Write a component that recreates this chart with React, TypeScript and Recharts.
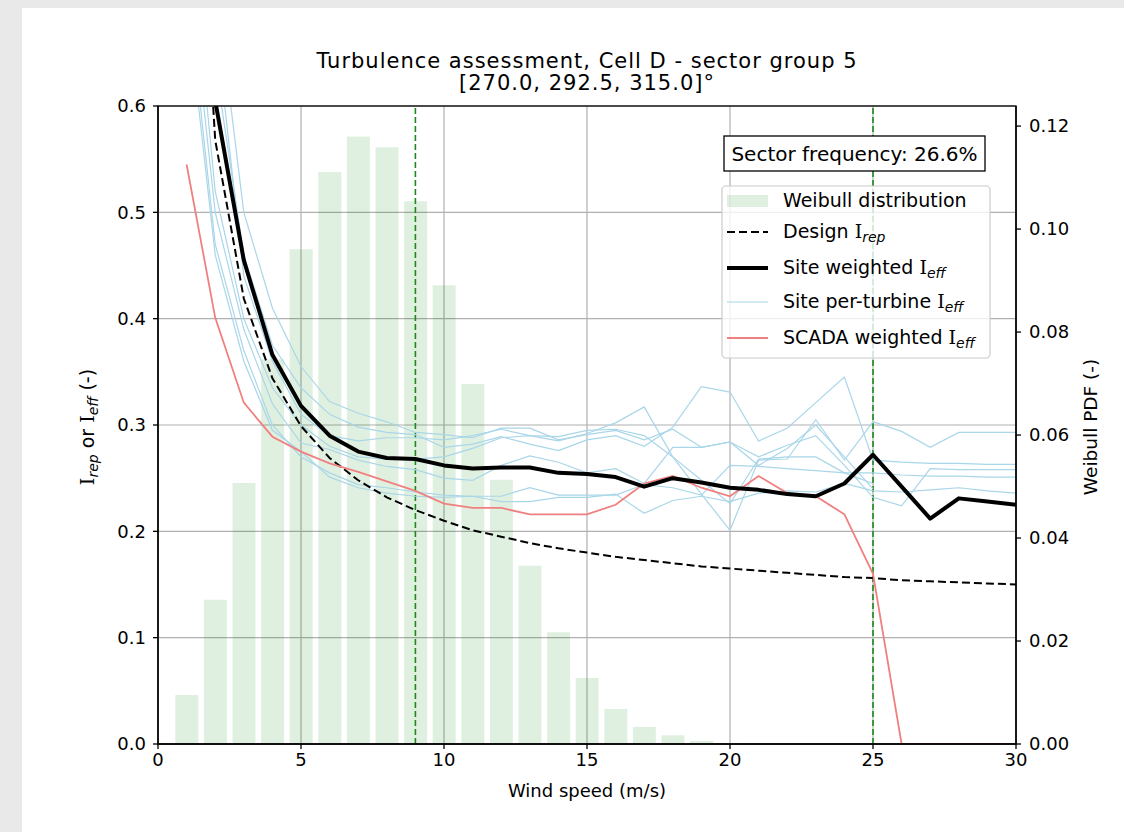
import React from "react";
import {
  ComposedChart,
  Bar,
  Line,
  XAxis,
  YAxis,
  CartesianGrid,
  ReferenceLine,
} from "recharts";

const windSpeed = [1, 2, 3, 4, 5, 6, 7, 8, 9, 10, 11, 12, 13, 14, 15, 16, 17, 18, 19, 20, 21, 22, 23, 24, 25, 26, 27, 28, 29, 30];
const weibullPdf = [0.0095, 0.028, 0.0507, 0.0747, 0.0961, 0.1111, 0.118, 0.1159, 0.1054, 0.0891, 0.0699, 0.0513, 0.0346, 0.0217, 0.0128, 0.0068, 0.0033, 0.0017, 0.0006, 0.0002, null, null, null, null, null, null, null, null, null, null];
const designIrep = [1.016, 0.568, 0.419, 0.344, 0.299, 0.269, 0.248, 0.232, 0.22, 0.21, 0.201, 0.195, 0.189, 0.184, 0.18, 0.176, 0.173, 0.17, 0.167, 0.165, 0.163, 0.161, 0.159, 0.157, 0.156, 0.154, 0.153, 0.152, 0.151, 0.15];
const siteWeighted = [null, 0.605, 0.455, 0.366, 0.318, 0.29, 0.275, 0.269, 0.268, 0.262, 0.259, 0.26, 0.26, 0.255, 0.254, 0.251, 0.242, 0.25, 0.246, 0.241, 0.239, 0.235, 0.233, 0.245, 0.272, 0.242, 0.212, 0.231, 0.228, 0.225];
const scadaWeighted = [0.545, 0.401, 0.321, 0.289, 0.275, 0.264, 0.256, 0.247, 0.238, 0.226, 0.222, 0.222, 0.216, 0.216, 0.216, 0.225, 0.245, 0.252, 0.241, 0.233, 0.252, 0.236, 0.233, 0.216, 0.16, 0, 0, 0, 0, 0];
const turbine1 = [null, 0.72, 0.5, 0.41, 0.355, 0.322, 0.311, 0.303, 0.293, 0.291, 0.288, 0.297, 0.297, 0.286, 0.291, 0.295, 0.286, 0.296, 0.279, 0.284, 0.262, 0.278, 0.3, 0.27, 0.24, null, null, null, null, null];
const turbine2 = [null, 0.64, 0.46, 0.375, 0.335, 0.31, 0.298, 0.293, 0.291, 0.279, 0.282, 0.289, 0.282, 0.276, 0.286, 0.29, 0.28, 0.298, 0.336, 0.331, 0.285, 0.297, 0.321, 0.345, 0.267, 0.265, 0.264, 0.264, 0.263, 0.263];
const turbine3 = [0.8, 0.52, 0.4, 0.335, 0.3, 0.28, 0.27, 0.268, 0.268, 0.27, 0.278, 0.288, 0.29, 0.285, 0.292, 0.302, 0.317, 0.27, 0.235, 0.201, 0.267, 0.268, 0.305, 0.267, 0.303, 0.294, 0.279, 0.293, 0.293, 0.293];
const turbine4 = [0.75, 0.5, 0.39, 0.32, 0.283, 0.277, 0.267, 0.261, 0.258, 0.25, 0.248, 0.262, 0.271, 0.265, 0.255, 0.259, 0.245, 0.279, 0.279, 0.284, 0.27, 0.281, 0.29, 0.262, 0.232, 0.224, 0.259, 0.258, 0.258, 0.258];
const turbine5 = [0.72, 0.47, 0.37, 0.3, 0.27, 0.255, 0.244, 0.241, 0.237, 0.234, 0.233, 0.233, 0.241, 0.234, 0.234, 0.234, 0.244, 0.241, 0.234, 0.262, 0.261, 0.259, 0.257, 0.255, 0.255, 0.253, 0.252, 0.252, 0.251, 0.251];
const turbine6 = [0.7, 0.46, 0.36, 0.295, 0.275, 0.251, 0.241, 0.236, 0.233, 0.232, 0.233, 0.228, 0.228, 0.232, 0.232, 0.235, 0.217, 0.229, 0.233, 0.228, 0.236, 0.238, 0.237, 0.245, 0.238, 0.237, 0.239, 0.241, 0.238, 0.236];
const turbine7 = [null, 0.68, 0.44, 0.36, 0.31, 0.29, 0.285, 0.288, 0.288, 0.286, 0.29, 0.296, 0.29, 0.289, 0.295, 0.296, 0.29, 0.27, 0.248, 0.226, 0.268, 0.27, 0.27, 0.255, 0.245, null, null, null, null, null];

const xTicks = [0, 5, 10, 15, 20, 25, 30];
const leftTicks = [0, 0.1, 0.2, 0.3, 0.4, 0.5, 0.6];
const rightTicks = [0, 0.02, 0.04, 0.06, 0.08, 0.1, 0.12];
const cutInOut = [9, 25];
const titleLines = ["Turbulence assessment, Cell D - sector group 5", "[270.0, 292.5, 315.0]°"];
const sectorFrequency = "Sector frequency: 26.6%";

const turbines = [turbine1, turbine2, turbine3, turbine4, turbine5, turbine6, turbine7];

const data = windSpeed.map((x, i) => {
  const row: Record<string, number | null> = {
    x,
    pdf: weibullPdf[i],
    design: designIrep[i],
    site: siteWeighted[i],
    scada: scadaWeighted[i],
  };
  turbines.forEach((t, k) => {
    row["t" + (k + 1)] = t[i];
  });
  return row;
});

const FONT = "DejaVu Sans";
const BLUE = "#a9d6e8";
const RED = "#f08080";

const tickStyle = { fontSize: 18, fill: "#000", fontFamily: FONT };

function IText({ pre, sub }: { pre: string; sub: string }) {
  return (
    <>
      {pre}
      <tspan fontFamily="DejaVu Serif">I</tspan>
      <tspan fontSize={14} fontStyle="italic" dy={4}>{sub}</tspan>
    </>
  );
}

export default function App() {
  return (
    <div style={{ position: "fixed", left: 0, top: 0, width: 1124, height: 832, background: "#e9e9e9" }}>
      <div style={{ position: "absolute", left: 22, top: 8, right: 0, bottom: 0, background: "#fff" }} />
      <div style={{ position: "absolute", left: 0, top: 0, width: 1124, height: 832 }}>
        <ComposedChart
          width={1124}
          height={832}
          data={data}
          margin={{ top: 106, right: 48, bottom: 58, left: 98 }}
        >
          <CartesianGrid
            yAxisId="left"
            stroke="#b0b0b0"
            strokeWidth={1.2}
            verticalValues={xTicks}
            horizontalValues={leftTicks}
          />
          <XAxis
            dataKey="x"
            type="number"
            domain={[0, 30]}
            ticks={xTicks}
            allowDataOverflow
            height={30}
            tick={tickStyle}
            tickSize={5}
            tickMargin={4}
            stroke="#000"
            strokeWidth={1.3}
          />
          <YAxis
            yAxisId="left"
            orientation="left"
            domain={[0, 0.6]}
            ticks={leftTicks}
            allowDataOverflow
            width={60}
            tick={tickStyle}
            tickSize={5}
            tickMargin={7}
            tickFormatter={(v: number) => v.toFixed(1)}
            stroke="#000"
            strokeWidth={1.3}
          />
          <YAxis
            yAxisId="right"
            orientation="right"
            domain={[0, 0.1239]}
            ticks={rightTicks}
            allowDataOverflow
            width={60}
            tick={tickStyle}
            tickSize={5}
            tickMargin={8}
            tickFormatter={(v: number) => v.toFixed(2)}
            stroke="#000"
            strokeWidth={1.3}
          />
          <Bar
            yAxisId="right"
            dataKey="pdf"
            fill="green"
            fillOpacity={0.12}
            barSize={23}
            isAnimationActive={false}
          />
          {cutInOut.map((v) => (
            <ReferenceLine
              key={v}
              yAxisId="left"
              x={v}
              stroke="#1a8a1a"
              strokeWidth={1.6}
              strokeDasharray="6 3"
            />
          ))}
          {turbines.map((_, k) => (
            <Line
              key={k}
              yAxisId="left"
              dataKey={"t" + (k + 1)}
              stroke={BLUE}
              strokeWidth={1.2}
              dot={false}
              activeDot={false}
              isAnimationActive={false}
            />
          ))}
          <Line
            yAxisId="left"
            dataKey="design"
            stroke="#000"
            strokeWidth={2}
            strokeDasharray="8 4"
            dot={false}
            activeDot={false}
            isAnimationActive={false}
          />
          <Line
            yAxisId="left"
            dataKey="scada"
            stroke={RED}
            strokeWidth={1.8}
            dot={false}
            activeDot={false}
            isAnimationActive={false}
          />
          <Line
            yAxisId="left"
            dataKey="site"
            stroke="#000"
            strokeWidth={4}
            strokeLinejoin="round"
            dot={false}
            activeDot={false}
            isAnimationActive={false}
          />
        </ComposedChart>
      </div>
      <svg
        width={1124}
        height={832}
        style={{ position: "absolute", left: 0, top: 0, pointerEvents: "none" }}
        fontFamily={FONT}
      >
        <rect x={158} y={106} width={858} height={638} fill="none" stroke="#000" strokeWidth={1.3} />
        <text x={587} y={68} textAnchor="middle" fontSize={21} letterSpacing={1} fill="#000">{titleLines[0]}</text>
        <text x={587} y={90} textAnchor="middle" fontSize={21} letterSpacing={1} fill="#000">{titleLines[1]}</text>
        <text x={587} y={797} textAnchor="middle" fontSize={18} fill="#000">Wind speed (m/s)</text>
        <text transform="translate(94,427) rotate(-90)" textAnchor="middle" fontSize={19} fill="#000">
          <IText pre="" sub="rep" />
          <tspan dy={-4}> or </tspan>
          <IText pre="" sub="eff" />
          <tspan dy={-4}> (-)</tspan>
        </text>
        <text transform="translate(1097,427) rotate(-90)" textAnchor="middle" fontSize={18.5} fill="#000">Weibull PDF (-)</text>

        <rect x={724} y={136} width={261} height={35} fill="#fff" stroke="#000" strokeWidth={1.3} />
        <text x={854.5} y={161} textAnchor="middle" fontSize={20} fill="#000">{sectorFrequency}</text>

        <rect x={722} y={186} width={268} height={172} rx={4} fill="#fff" fillOpacity={0.8} stroke="#cccccc" strokeWidth={1.2} />
        <rect x={727} y={195} width={41} height={12} fill="green" fillOpacity={0.12} />
        <text x={783} y={207} fontSize={19} fill="#000">Weibull distribution</text>
        <line x1={727} y1={232} x2={768} y2={232} stroke="#000" strokeWidth={2} strokeDasharray="8 4" />
        <text x={783} y={238} fontSize={19} fill="#000">
          <IText pre="Design " sub="rep" />
        </text>
        <line x1={727} y1={268} x2={768} y2={268} stroke="#000" strokeWidth={4} />
        <text x={783} y={274} fontSize={19} fill="#000">
          <IText pre="Site weighted " sub="eff" />
        </text>
        <line x1={727} y1={302} x2={768} y2={302} stroke={BLUE} strokeWidth={1.2} />
        <text x={783} y={308} fontSize={19} fill="#000">
          <IText pre="Site per-turbine " sub="eff" />
        </text>
        <line x1={727} y1={338} x2={768} y2={338} stroke={RED} strokeWidth={1.8} />
        <text x={783} y={344} fontSize={19} fill="#000">
          <IText pre="SCADA weighted " sub="eff" />
        </text>
      </svg>
    </div>
  );
}
